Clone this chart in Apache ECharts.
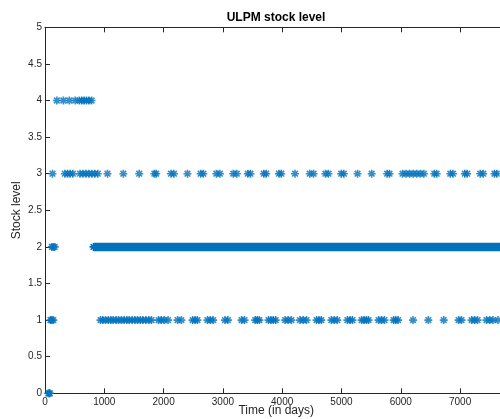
<!DOCTYPE html>
<html>
<head>
<meta charset="utf-8">
<script src="https://cdn.jsdelivr.net/npm/echarts@6/dist/echarts.min.js"></script>
<style>html,body{margin:0;padding:0;background:#fff}#c{width:500px;height:419px}</style>
</head>
<body>
<div id="c"></div>
<script>
// ---- data (days at which each stock level was observed) ----
const level0Days = [55, 70, 82];
const level1Days = [92, 115, 140,
  936, 975, 1020, 1070, 1110, 1150, 1200, 1240, 1290, 1335, 1380, 1420, 1470, 1515, 1560, 1610, 1650, 1700, 1750, 1796,
  1915, 1960, 2010, 2075, 2235, 2300, 2490, 2530, 2570, 2740, 2790, 2835, 3035, 3085, 3315, 3365,
  3545, 3580, 3615, 3770, 3810, 3850, 3890, 4050, 4100, 4155, 4300, 4355, 4410, 4580, 4620, 4660,
  4830, 4880, 4930, 5100, 5145, 5185, 5340, 5380, 5420, 5455, 5625, 5675, 5725, 5880, 5915, 5955,
  6207, 6465, 6725, 6975, 7025, 7195, 7245, 7295, 7445, 7500, 7555, 7640];
const level2Days = [115, 140, 165];
const level2Runs = [[818, 7800]];   // continuous stretch spent at level 2
const level3Days = [126, 335, 380, 425, 470, 590, 640, 690, 740, 790, 840, 890,
  1054, 1321, 1589, 1845, 1875, 2125, 2175, 2403, 2625, 2670, 2890, 2950, 3175, 3235, 3420, 3465,
  3690, 3730, 3945, 3985, 4216, 4465, 4530, 4730, 4780, 4995, 5040, 5271, 5510, 5770, 5810,
  6030, 6090, 6150, 6210, 6270, 6330, 6390, 6565, 6605, 6835, 6880, 7080, 7120, 7340, 7390, 7580, 7620];
const level4Days = [200, 310, 410, 510, 580, 620, 660, 700, 740, 785];
const xTickLabels = ['0', '1000', '2000', '3000', '4000', '5000', '6000', '7000'];
const yTickLabels = ['0', '0.5', '1', '1.5', '2', '2.5', '3', '3.5', '4', '4.5', '5'];

const BLUE = '#0072BD';
const TXT = '#262626';
const STAR = 'path://M0,5L10,5M5,0L5,10M1.46,1.46L8.54,8.54M8.54,1.46L1.46,8.54';

const pts = [];
[[level0Days, 0], [level1Days, 1], [level2Days, 2], [level3Days, 3], [level4Days, 4]].forEach(([arr, lv]) => {
  arr.forEach(d => pts.push([d, lv]));
});

const runSeries = level2Runs.map(r => ({
  type: 'line',
  data: [[r[0], 2], [r[1], 2]],
  symbol: STAR, symbolSize: 8, showSymbol: true,
  itemStyle: {color: BLUE, borderColor: BLUE, borderWidth: 1.6},
  lineStyle: {color: BLUE, width: 8.5, cap: 'butt'},
  clip: false, silent: true, z: 2
}));

const font = '"Liberation Sans", Arial, Helvetica, sans-serif';
const chart = echarts.init(document.getElementById('c'), null, {renderer: 'canvas'});
chart.setOption({
  animation: false,
  title: {
    text: 'ULPM stock level', left: 276, top: 12, padding: 0, textAlign: 'center',
    textStyle: {fontFamily: font, fontSize: 12, fontWeight: 'bold', color: '#000'}
  },
  grid: {left: 45, top: 27.3, width: 462.5, height: 366, containLabel: false, outerBoundsMode: 'none'},
  xAxis: [{
    type: 'value', min: 0, max: 7800, interval: 1000,
    name: 'Time (in days)', nameLocation: 'middle', nameGap: 11, nameMoveOverlap: false,
    nameTextStyle: {fontFamily: font, fontSize: 12, color: TXT},
    axisLine: {show: true, lineStyle: {color: TXT, width: 1}},
    axisTick: {show: true, inside: true, length: 5, lineStyle: {color: TXT}},
    axisLabel: {fontFamily: font, fontSize: 10, color: TXT, margin: 4, showMaxLabel: false,
      formatter: v => { const i = xTickLabels.indexOf(String(v)); return i >= 0 ? xTickLabels[i] : ''; }},
    splitLine: {show: false}
  }, {
    type: 'value', position: 'top', min: 0, max: 7800, interval: 1000,
    axisLine: {show: true, onZero: false, lineStyle: {color: TXT, width: 1}},
    axisTick: {show: true, inside: true, length: 5, lineStyle: {color: TXT}},
    axisLabel: {show: false}, splitLine: {show: false}
  }],
  yAxis: {
    type: 'value', min: 0, max: 5, interval: 0.5,
    name: 'Stock level', nameLocation: 'middle', nameGap: 22, nameMoveOverlap: false,
    nameTextStyle: {fontFamily: font, fontSize: 12, color: TXT},
    axisLine: {show: true, lineStyle: {color: TXT, width: 1}},
    axisTick: {show: true, inside: true, length: 5, lineStyle: {color: TXT}},
    axisLabel: {fontFamily: font, fontSize: 10, color: TXT, margin: 3,
      formatter: v => { const i = Math.round(v * 2); return yTickLabels[i] !== undefined ? yTickLabels[i] : ''; }},
    splitLine: {show: false}
  },
  series: [{
    type: 'scatter', data: pts,
    symbol: STAR, symbolSize: 8,
    itemStyle: {color: BLUE, borderColor: BLUE, borderWidth: 1.6},
    clip: false, silent: true, z: 3
  }].concat(runSeries)
});
</script>
</body>
</html>
